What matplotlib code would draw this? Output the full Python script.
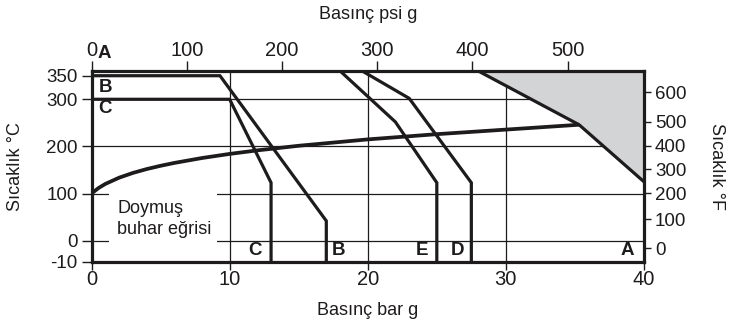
"""
Body design limits chart: operating envelope of a steam valve body by
pressure (bar g / psi g) and temperature (°C / °F), with the saturated
steam curve.
"""

import numpy as np
import matplotlib
matplotlib.use("Agg")
from matplotlib import pyplot as plt
from matplotlib.patches import Rectangle

plt.rcParams['font.family'] = ['Liberation Sans', 'DejaVu Sans']
INK = '#1e1b1c'

# saturated steam curve (bar g, °C)
sat_bar = [0, 0.5, 1, 2, 3, 4, 5, 6, 8, 10, 12, 15, 20, 25, 30, 35.3]
sat_temp = [100, 111.6, 120.4, 133.7, 143.8, 152, 158.9, 165, 175.4,
            184.1, 191.6, 201.4, 214.9, 226, 235.7, 246]

# limit lines for each body option (bar g, °C)
a_bar = [28.0, 35.3, 40.0]
a_temp = [360, 246, 125]
b_bar = [0, 9.3, 17.0, 17.0]
b_temp = [350, 350, 42, -10]
c_bar = [0, 10.0, 13.0, 13.0]
c_temp = [300, 300, 123, -10]
d_bar = [19.6, 23.0, 27.5, 27.5]
d_temp = [360, 302, 123, -10]
e_bar = [18.0, 22.0, 25.0, 25.0]
e_temp = [360, 252, 123, -10]

# axis ticks
bar_ticks = [0, 10, 20, 30, 40]
psi_ticks = [0, 100, 200, 300, 400, 500]
c_ticks = [-10, 0, 100, 200, 300, 350]
c_tick_labels = ['-10', '0', '100', '200', '300', '350']
f_ticks = ['0', '100', '200', '300', '400', '500', '600']
f_tick_pos_c = [-3.6, 45.4, 100.5, 151.5, 201, 252, 315]

# region letters: (letter, bar g, °C)
bottom_letters = [('C', 11.85, -4.4), ('B', 17.9, -4.4), ('E', 23.9, -4.4),
                  ('D', 26.5, -4.4), ('A', 38.8, -4.4)]
left_letters = [('B', 0.98, 326), ('C', 0.98, 280)]


# the -10..0 band is drawn stretched compared with the rest of the scale
def y_fwd(y):
    y = np.asarray(y, dtype=float)
    return np.where(y < 0, (y + 10) * 2.13, 21.3 + y * (169.7 / 360))


def y_inv(p):
    p = np.asarray(p, dtype=float)
    return np.where(p < 21.3, p / 2.13 - 10, (p - 21.3) * 360 / 169.7)


fig = plt.figure(figsize=(7.3, 3.25), dpi=100)
ax = fig.add_axes([91.5 / 730, 63 / 325, 552.5 / 730, 191 / 325])
ax.set_yscale('function', functions=(y_fwd, y_inv))
ax.set_xlim(0, 40)
ax.set_ylim(-10, 360)

# grid
for y in [0, 100, 200, 300]:
    ax.axhline(y, color=INK, lw=0.9, zorder=1)
for x in [10, 20, 30]:
    ax.axvline(x, color=INK, lw=0.9, zorder=1)

# shaded area beyond limit A
ax.fill(a_bar + [40], a_temp + [360], color='#d3d4d6', lw=0, zorder=2)

line_kw = dict(color=INK, lw=2.3, zorder=3, solid_joinstyle='miter',
               solid_capstyle='butt')
for xs, ys in [(a_bar, a_temp), (b_bar, b_temp), (c_bar, c_temp),
               (d_bar, d_temp), (e_bar, e_temp)]:
    ax.plot(xs, ys, **line_kw)
ax.plot(sat_bar, sat_temp, color=INK, lw=2.7, zorder=3,
        solid_capstyle='butt')

# label for the steam curve on a white patch
ax.add_patch(Rectangle((1.3, -4), 7.75, 122, facecolor='white',
                       edgecolor='none', zorder=1.5))
ax.text(1.85, 46, 'Doymuş\nbuhar eğrisi', fontsize=13, color=INK,
        ha='left', va='center', linespacing=1.25, zorder=2)

for letter, x, y in bottom_letters + left_letters:
    ax.text(x, y, letter, fontsize=13.5, fontweight='bold', color=INK,
            ha='center', va='center', zorder=4)
ax.text(0.94, 1.092, 'A', transform=ax.get_xaxis_transform(), fontsize=13.5,
        fontweight='bold', color=INK, ha='center', va='center',
        clip_on=False)

# spines and ticks
for side in ax.spines:
    ax.spines[side].set_linewidth(2.3)
    ax.spines[side].set_color(INK)
    ax.spines[side].set_zorder(5)
ax.set_xticks(bar_ticks)
ax.set_yticks(c_ticks)
ax.set_yticklabels(c_tick_labels)
ax.yaxis.set_minor_locator(matplotlib.ticker.NullLocator())
ax.tick_params(axis='x', direction='out', length=6, width=1, pad=0,
               labelsize=14.5, colors=INK)
ax.tick_params(axis='y', direction='out', length=7, width=1, pad=3,
               labelsize=13.5, colors=INK)

secax = ax.secondary_xaxis('top', functions=(lambda b: b * 14.5038,
                                             lambda p: p / 14.5038))
secax.set_xticks(psi_ticks)
secax.spines['top'].set_visible(False)
secax.tick_params(direction='out', length=7, width=1, pad=1,
                  labelsize=14.5, colors=INK)
secax.set_xlabel('Basınç psi g', fontsize=13, color=INK, labelpad=16)

ax2 = ax.twinx()
ax2.set_yscale('function', functions=(y_fwd, y_inv))
ax2.set_ylim(-10, 360)
ax2.set_yticks(f_tick_pos_c)
ax2.set_yticklabels(f_ticks)
ax2.yaxis.set_minor_locator(matplotlib.ticker.NullLocator())
for side in ax2.spines:
    ax2.spines[side].set_visible(False)
ax2.tick_params(axis='y', direction='out', length=5, width=1, pad=3,
                labelsize=13.5, colors=INK)

ax.set_xlabel('Basınç bar g', fontsize=13, color=INK, labelpad=9)
ax.set_ylabel('Sıcaklık °C', fontsize=13, color=INK, labelpad=16)
ax2.set_ylabel('Sıcaklık °F', fontsize=13, color=INK, rotation=270,
               labelpad=28)

fig.savefig('out.png', dpi=100)
